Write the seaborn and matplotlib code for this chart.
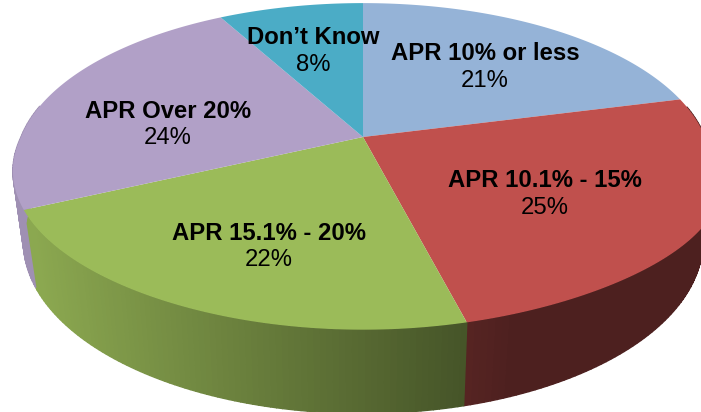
import numpy as np
import matplotlib
matplotlib.use("Agg")
import matplotlib.pyplot as plt
import seaborn as sns

labels = ["APR 10% or less", "APR 10.1% - 15%", "APR 15.1% - 20%", "APR Over 20%", "Don\u2019t Know"]
shares = [21, 25, 22, 24, 8]
pie_colors = ["#95B3D7", "#C0504D", "#9BBB59", "#B1A0C7", "#4BACC6"]
label_pos = [(485, 53), (545, 180), (269, 233), (168, 111), (313, 37)]

sns.set_theme(style="white")
plt.rcParams["font.family"] = ["Liberation Sans", "DejaVu Sans"]

# perspective settings worked out from the picture
cx, cy, rx, ry, p = 363, 137, 342, 158, 0.18
cx_b, cy_b, rx_b, ry_b = 363, 211, 334, 166


def rim(theta, x0, y0, w, h, bulge=0):
    u = np.sin(theta)
    v = np.cos(theta)
    k = 1 / (1 + p * v)
    # top face swells a bit towards the lower corners, more on the right
    side = np.where(u > 0, bulge, bulge * 0.25)
    extra = side * np.abs(u) ** 3 * np.clip(-v, 0, None) * np.sign(u)
    return x0 + w * u * k + extra, y0 - h * v * k


def side_color(col, x):
    # side walls get darker from left to right, flat after the green slice
    rgb = np.array(matplotlib.colors.to_rgb(col))
    return rgb * np.clip(0.9 - 0.45 * (x - 30) / 437, 0.40, 0.9)


palette = sns.color_palette(pie_colors)
fig, ax = plt.subplots(figsize=(7.01, 4.12), dpi=100)
fig.subplots_adjust(0, 0, 1, 1)
ax.set_xlim(0, 701)
ax.set_ylim(412, 0)
ax.axis("off")

edges = np.cumsum([0] + shares) / sum(shares) * 2 * np.pi

# side wall first
for i, col in enumerate(palette):
    steps = np.linspace(edges[i], edges[i + 1], 90)
    for a, b in zip(steps[:-1], steps[1:]):
        if np.cos((a + b) / 2) > 0.2:
            continue
        x1, y1 = rim(np.array([a, b]), cx, cy, rx, ry, 52)
        x2, y2 = rim(np.array([b, a]), cx_b, cy_b, rx_b, ry_b)
        c = side_color(col, x1.mean())
        ax.fill(np.r_[x1, x2], np.r_[y1, y2], color=c, lw=1, ec=c)

# top of the pie
for i, col in enumerate(palette):
    th = np.linspace(edges[i], edges[i + 1], 120)
    x, y = rim(th, cx, cy, rx, ry, 52)
    ax.fill(np.r_[cx, x], np.r_[cy, y], color=col, lw=0)

for name, val, (tx, ty) in zip(labels, shares, label_pos):
    ax.text(tx, ty, name, ha="center", va="center", fontsize=17.2, fontweight="bold", color="black")
    ax.text(tx, ty + 27.5, f"{val}%", ha="center", va="center", fontsize=17.2, color="black")

fig.savefig("out.png", dpi=100)
